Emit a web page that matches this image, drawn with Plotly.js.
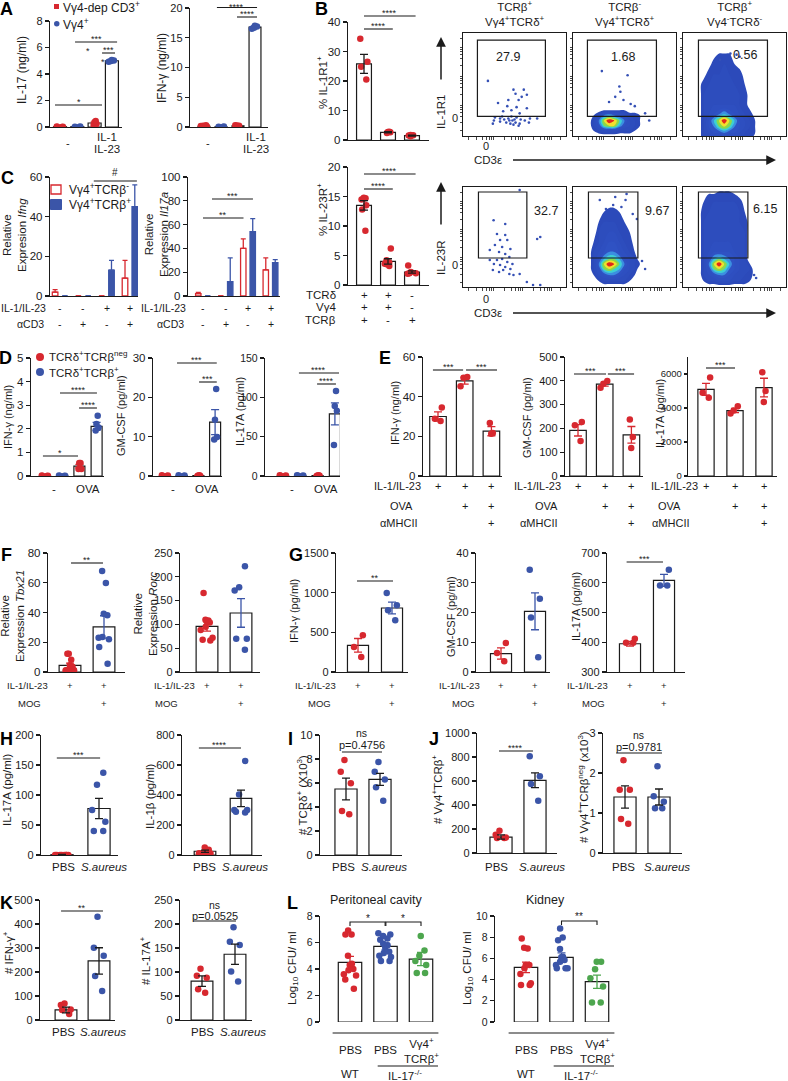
<!DOCTYPE html>
<html><head><meta charset="utf-8">
<script src="https://cdn.plot.ly/plotly-3.0.1.min.js"></script>
<style>html,body{margin:0;padding:0;background:#fff}</style>
</head><body><div id="chart" style="width:788px;height:1081px"></div>
<script>
// ================= DATA =================
// A
const A1_mean=[0.02,0.02,0.3,5.0], A1_sem=[0.01,0.01,0.07,0.04];
const A1_pts=[[0,0,0.02,0.04],[0,0.02,0.03],[0.12,0.22,0.35,0.45],[4.92,4.98,5.02,5.06]];
const A2_mean=[0.12,0.05,0.2,16.8], A2_sem=[0.08,0.02,0.05,0.15];
const A2_pts=[[0,0.05,0.1,0.2,0.3,0.15],[0,0.05,0.1],[0.1,0.2,0.25,0.3],[16.5,16.7,16.9,17.0]];
// B
const B1_mean=[25.8,2.6,1.5], B1_sem=[3.2,0.2,0.15];
const B1_pts=[[34.3,26.5,24.8,20.5],[2.4,2.6,2.7,2.8],[1.3,1.5,1.6,1.7]];
const B2_mean=[13.5,4.0,2.2], B2_sem=[0.8,0.45,0.2];
const B2_pts=[[14.8,14.7,14.6,14.5,13.5,12.8,9.2],[6.2,4.2,3.8,3.6,3.5,3.2],[3.3,2.2,2.0,2.0,1.9]];
const B_rowNames=['TCRδ','Vγ4','TCRβ'];
const B_rows=[['+','+','-'],['+','+','-'],['+','-','+']];
// B flow cytometry
const FLOW_cols=['TCRβ<sup>+</sup><br>Vγ4<sup>+</sup>TCRδ<sup>+</sup>','TCRβ<sup>-</sup><br>Vγ4<sup>+</sup>TCRδ<sup>+</sup>','TCRβ<sup>+</sup><br>Vγ4<sup>-</sup>TCRδ<sup>-</sup>'];
const FLOW_pct=['27.9','1.68','0.56','32.7','9.67','6.15'];
const FLOW_gates=[[1.4,8.0,1.9,9.3],[1.4,8.1,1.9,9.3],[1.5,8.2,1.9,9.3],[1.5,6.2,2.9,9.5],[1.5,6.3,2.9,9.5],[1.5,6.3,2.9,9.5]];
const FLOW_ticks=[0.5,1.3,1.9,2.3,2.6,2.8,3.0,4.0,4.7,5.1,5.4,5.6,5.8,6.8,7.5,7.9,8.2,8.4,8.6,9.5];
const FT1_x=[2.42,4.9,5.9,5.1,5.7,6.2,4.4,5.4,3.4,4.3,5.2,4.7,6.2,3.9,5.5,3.1,3.6,4.0,4.4,4.8,5.2,5.6,6.0,6.5,3.6,4.2,4.6,5.1,5.5,3.0,4.5,4.9,5.4,7.2,3.8,4.7,5.0,2.9,6.4];
const FT1_y=[5.35,4.5,4.5,4.1,3.8,4.0,3.5,3.5,3.2,2.9,2.8,2.5,2.7,2.4,2.2,1.8,1.7,1.6,1.7,1.5,1.8,1.6,1.5,1.7,1.4,1.3,1.2,1.3,1.2,1.5,1.5,1.1,1.0,1.7,1.9,1.9,1.6,1.2,1.3];
const FT2_x=[2.8,5.3,4.5,4.1,4.6,4.9,5.6,3.5,6.0,7.0,7.4];
const FT2_y=[6.3,5.9,4.8,3.8,4.3,3.5,3.1,3.3,2.9,2.2,1.5];
const FT3_x=[4.6,5.2,5.5,3.6];
const FT3_y=[8.0,7.9,7.7,7.4];
const FB1_x=[2.97,4.1,3.3,4.1,3.6,4.3,3.1,3.8,4.6,2.6,3.5,4.1,4.5,3.8,3.3,4.3,4.8,3.0,3.6,4.1,4.6,3.9,3.5,4.5,4.9,5.5,6.2,6.8,7.5,7.5,7.2,5.5,2.6,2.9];
const FB1_y=[6.67,6.3,5.3,5.2,4.7,4.7,4.2,4.0,3.8,3.7,3.5,3.3,3.0,2.8,2.7,2.5,2.3,2.3,2.2,2.0,1.8,1.7,1.5,1.3,1.2,1.3,0.5,0.2,0.2,5.0,4.8,9.7,2.7,1.7];
const FB2_x=[2.6,4.1,5.1,5.2,3.9,4.7,3.2,5.8,6.2,6.7,7.0];
const FB2_y=[8.7,9.0,8.7,9.3,8.2,8.0,7.8,7.3,6.8,2.6,1.8];
const FB3_x=[6.9,7.1];
const FB3_y=[1.2,0.9];
// density grids (relative event density)
const FT2_gx=[1.5,2,2.5,3,3.5,4,4.5,5,5.5,6,6.5,7,7.5];
const FT2_gy=[0,0.5,1,1.5,2,2.5,3,3.5];
const FT2_z=[
 [0,0,0,0,0,0,0,0,0,0,0,0,0],
 [0,1,2,3,3,3,2,2,2,1,1,0,0],
 [0,2,4,7,8,8,6,4,3,2,1,1,0],
 [0,2,5,8,10,9,7,5,3,2,1,1,0],
 [0,1,3,5,6,5,4,3,2,2,1,0,0],
 [0,0,0,1,1,1,1,1,0,0,0,0,0],
 [0,0,0,0,0,0,0,0,0,0,0,0,0],
 [0,0,0,0,0,0,0,0,0,0,0,0,0]];
const FT3_gx=[1.5,2,2.5,3,3.5,4,4.5,5,5.5,6,6.5,7,7.5];
const FT3_gy=[-0.5,0.3,0.9,1.5,2.1,3,4,5,6,7,8,8.8];
const FT3_z=[
 [0,2,3,3,3,3,3,3,2,2,1,0,0],
 [0,2,3,4,4,5,4,4,3,2,2,1,0],
 [0,2,4,5,7,8,7,5,4,3,2,1,0],
 [0,2,4,6,8,10,8,6,4,3,2,1,0],
 [0,2,3,4,5,6,5,4,3,2,2,0,0],
 [0,2,3,3,3,3,3,3,2,2,0,0,0],
 [0,2,3,3,3,3,3,3,2,2,0,0,0],
 [0,2,2,3,3,3,3,2,2,1,0,0,0],
 [0,0,2,2,2,3,2,2,2,0,0,0,0],
 [0,0,0,2,2,2,2,1,0,0,0,0,0],
 [0,0,0,0,1,1,1,0,0,0,0,0,0],
 [0,0,0,0,0,0,0,0,0,0,0,0,0]];
const FB2_gx=[1.5,2,2.5,3,3.5,4,4.5,5,5.5,6,6.5,7];
const FB2_gy=[0,0.6,1.2,1.8,2.3,2.8,3.5,4.5,5.5,6.5,7.5,8.3];
const FB2_z=[
 [0,0,0,0,0,0,0,0,0,0,0,0],
 [0,0,1,2,2,2,2,2,1,0,0,0],
 [0,1,3,4,5,5,4,3,2,1,0,0],
 [0,2,4,7,8,7,6,4,3,2,0,0],
 [0,2,5,8,10,9,7,5,3,2,1,0],
 [0,2,4,6,7,7,6,4,3,2,0,0],
 [0,2,3,4,5,5,4,3,2,1,0,0],
 [0,1,2,3,4,4,3,2,2,0,0,0],
 [0,0,2,3,3,3,2,2,1,0,0,0],
 [0,0,1,2,2,2,2,1,0,0,0,0],
 [0,0,0,1,2,2,1,0,0,0,0,0],
 [0,0,0,0,0,0,0,0,0,0,0,0]];
const FB3_gx=[1.5,2,2.5,3,3.5,4,4.5,5,5.5,6,6.5,7];
const FB3_gy=[0,0.6,1.2,1.8,2.3,2.8,3.5,4.5,5.5,6.5,7.5,8.5,9.3,9.8];
const FB3_z=[
 [0,0,0,0,0,0,0,0,0,0,0,0],
 [0,1,2,2,3,3,3,2,2,2,1,0],
 [0,2,3,4,5,5,4,3,3,2,2,0],
 [0,2,4,7,8,7,5,4,3,3,2,0],
 [0,2,5,8,10,8,6,4,3,3,1,0],
 [0,2,4,6,7,6,5,4,3,2,0,0],
 [0,2,3,4,4,4,4,3,3,2,0,0],
 [0,2,3,3,3,3,3,3,3,2,0,0],
 [0,2,3,3,3,3,3,3,3,2,0,0],
 [0,2,3,3,3,3,3,3,2,2,0,0],
 [0,2,2,3,3,3,3,3,2,1,0,0],
 [0,1,2,2,2,2,2,2,2,0,0,0],
 [0,0,1,1,2,2,2,1,0,0,0,0],
 [0,0,0,0,0,0,0,0,0,0,0,0]];
// C
const C1_neg=[2,0,0,9], C1_negErr=[1.2,0,0,9], C1_pos=[0,0,13,45], C1_posErr=[0,0,5,11];
const C2_neg=[2,0,40,22], C2_negErr=[1,0,8,10], C2_pos=[0,12,54,28], C2_posErr=[0,20,11,2.5];
const C_rowNames=['IL-1/IL-23','αCD3'];
const C_rows=[['-','-','+','+'],['-','+','-','+']];
// D
const D1_mean=[0.02,0.02,0.42,2.1], D1_sem=[0.01,0.01,0.07,0.17];
const D1_pts=[[0,0,0.01,0.02],[0,0,0.01,0.02],[0.55,0.55,0.3,0.3],[2.55,2.2,2.05,1.93]];
const D2_mean=[0.1,0.1,0.1,13.7], D2_sem=[0.05,0.05,0.05,3.2];
const D2_pts=[[0,0,0.1,0.2],[0,0,0.1,0.2],[0,0,0.1,0.2],[22.1,14.3,9.9,9.3]];
const D3_mean=[0.5,0.5,0.5,79], D3_sem=[0.2,0.2,0.2,14];
const D3_pts=[[0,0.3,0.6,1],[0,0.3,0.6,1],[0,0.3,0.6,1],[108,89,83,39.5]];
const D_x=['-','OVA'];
// E
const E1_mean=[30,48,22.6], E1_sem=[2.3,1.7,2.3];
const E1_pts=[[34.5,28.9,27.7],[49.9,49.6,45.2],[26.7,21.7,21.3]];
const E2_mean=[192,386,173], E2_sem=[24,8,35];
const E2_pts=[[227,213,147],[399,388,371],[237,164,118]];
const E3_mean=[5100,3850,5200], E3_sem=[350,120,550];
const E3_pts=[[5800,4900,4600],[4100,3860,3670],[6100,5000,4350]];
const E_rowNames=['IL-1/IL-23','OVA','αMHCII'];
const E_rows=[['+','+','+'],['','+','+'],['','','+']];
// F
const F1_mean=[4.5,30.3], F1_sem=[1.5,7.5];
const F1_pts=[[12.3,12.3,8.3,4.5,3.5,1.2,1.1,1.1,1.0,1.0],[67.9,59.8,39.2,38.1,23.5,23.1,22,16.8,5.6]];
const F2_mean=[96,124], F2_sem=[10,30];
const F2_pts=[[166,110,108,106,104,95,88,72,68,66],[222,178,171,70,70,47]];
const FG_rowNames=['IL-1/IL-23','MOG'];
const FG_rows=[['+','+'],['','+']];
// G
const G1_mean=[336,807], G1_sem=[86,74];
const G1_pts=[[462,315,189],[996,840,777,651]];
const G2_mean=[6.2,20.4], G2_sem=[1.9,6.2];
const G2_pts=[[9.75,6.4,3.6],[34.4,24.6,18.3,5.0]];
const G3_mean=[395,608], G3_sem=[8,20];
const G3_pts=[[412,398,398],[644,591,591]];
// H
const H1_mean=[0.5,77.5], H1_sem=[0.3,17];
const H1_pts=[[0,0,0,0,0,0,0,0],[137,117,75,55.6,40,40]];
const H2_mean=[25,378], H2_sem=[8,55];
const H2_pts=[[50,35,15,12,10,8,5],[627,404,300,300,289,284]];
// I
const I_mean=[5.5,6.3], I_sem=[0.9,0.5];
const I_pts=[[7.92,6.94,5.97,3.67,3.39],[7.75,6.94,6.3,5.64,4.53]];
// J
const J1_mean=[133,606], J1_sem=[18,62];
const J1_pts=[[186,153,130,125,125],[806,639,575,436]];
const J2_mean=[1.40,1.40], J2_sem=[0.28,0.2];
const J2_pts=[[2.32,1.58,1.58,0.85,0.73],[2.17,1.42,1.28,1.12,1.12]];
// K
const K1_mean=[42,246], K1_sem=[12,55];
const K1_pts=[[69,62,44,42,25],[430,301,268,183,121]];
const K2_mean=[81,137], K2_sem=[11,21];
const K2_pts=[[107,92,88,64,57],[193,163,156,101,80]];
const HK_x=['PBS','<i>S.aureus</i>'];
const P_I='p=0.4756', P_J='p=0.9781', P_K='p=0.0525';
// L
const L1_mean=[4.5,5.7,4.75], L1_sem=[0.45,0.25,0.5];
const L1_pts=[[6.9,6.6,6.6,5.0,4.4,4.3,4.0,3.9,3.6,3.5,3.2,2.5],[6.7,6.6,6.5,6.3,6.2,5.9,5.8,5.6,5.3,5.2,5.0,4.9,4.6,4.6],[6.5,5.4,5.0,4.6,4.3,3.7,3.7]];
const L2_mean=[5.15,6.1,3.8], L2_sem=[0.5,0.42,0.63];
const L2_pts=[[7.88,7.0,6.94,5.38,5.38,5.06,4.53,3.66,3.5,3.5],[8.81,7.97,7.72,6.88,6.16,6.1,5.84,5.69,5.38,5.06,5.06,5.06],[5.69,5.69,4.97,4.13,3.34,1.84,1.84]];
const L_x=['PBS','PBS','Vγ4<sup>+</sup><br>TCRβ<sup>+</sup>'];
const L_geno=['WT','IL-17<sup>-/-</sup>'];

// ================= DRAWING =================
const W=788,H=1081;
const RED='#d7282f',BLUE='#3b55a8',GREEN='#4da64e',INK='#1b1b1b';
const FONT='"Liberation Sans", Arial, Helvetica, sans-serif';
const px=v=>v/W, py=v=>1-v/H;
const traces=[],shapes=[],ann=[];
const layout={width:W,height:H,margin:{l:0,r:0,t:0,b:0,pad:0},showlegend:false,hovermode:false,dragmode:false,
  paper_bgcolor:'#ffffff',plot_bgcolor:'rgba(0,0,0,0)',font:{family:FONT,size:11,color:INK},
  barmode:'overlay',boxmode:'overlay',boxgap:0.3,shapes:shapes,annotations:ann};
let nAx=0;
function axes(b,c0,step,yr,dt,o){
  o=o||{}; nAx++; const s=nAx===1?'':String(nAx);
  layout['xaxis'+s]=Object.assign({domain:[px(b[0]),px(b[1])],range:[(b[0]-c0)/step,(b[1]-c0)/step],anchor:'y'+s,showline:true,linecolor:INK,linewidth:1.2,ticks:'',showticklabels:false,showgrid:false,zeroline:false,fixedrange:true},o.x||{});
  layout['yaxis'+s]=Object.assign({domain:[py(b[3]),py(b[2])],range:yr,dtick:dt,tick0:0,anchor:'x'+s,showline:true,linecolor:INK,linewidth:1.2,ticks:'outside',ticklen:o.tl||4,tickwidth:1.2,tickcolor:INK,tickfont:{size:o.fs||11},showgrid:false,zeroline:false,fixedrange:true},o.y||{});
  return {x:'x'+s,y:'y'+s,c0:c0,step:step};
}
function flowAx(b){
  nAx++; const s=String(nAx);
  const base={showline:true,mirror:true,linecolor:INK,linewidth:1,ticks:'outside',tickvals:FLOW_ticks,ticklen:2.5,tickwidth:0.8,tickcolor:INK,showticklabels:false,showgrid:false,zeroline:false,fixedrange:true,range:[0,10]};
  layout['xaxis'+s]=Object.assign({},base,{domain:[px(b[0]),px(b[1])],anchor:'y'+s});
  layout['yaxis'+s]=Object.assign({},base,{domain:[py(b[3]),py(b[2])],anchor:'x'+s});
  return {x:'x'+s,y:'y'+s};
}
function T(x,y,text,o){ann.push(Object.assign({xref:'paper',yref:'paper',x:px(x),y:py(y),text:text,showarrow:false,xanchor:'center',yanchor:'middle',font:{size:11}},o||{}));}
function TA(ax,xi,y,text,o){ann.push(Object.assign({xref:ax.x,yref:'paper',x:xi,y:py(y),text:text,showarrow:false,xanchor:'center',yanchor:'middle',font:{size:11}},o||{}));}
function VT(x,y,text,fs){T(x,y,text,{textangle:-90,font:{size:fs||11}});}
function sig(ax,x0,x1,y,lab,fs,labTop){
  shapes.push({type:'line',xref:ax.x,yref:'paper',x0:x0,x1:x1,y0:py(y),y1:py(y),line:{color:INK,width:1.1}});
  if(lab){
    if(labTop!==undefined) TA(ax,(x0+x1)/2,labTop,lab,{yanchor:'top',font:{size:fs||9}});
    else TA(ax,(x0+x1)/2,y-3,lab,{font:{size:fs||9}});
  }
}
function bracket(ax,x0,x1,y,lab){
  shapes.push({type:'path',xref:ax.x,yref:'paper',path:`M${x0},${py(y+4)} L${x0},${py(y)} L${x1},${py(y)} L${x1},${py(y+4)}`,line:{color:INK,width:1.1}});
  TA(ax,(x0+x1)/2,y-4,lab,{font:{size:10}});
}
function letter(x,y,t){T(x,y,'<b>'+t+'</b>',{font:{size:18,color:'#000'}});}
function barDots(ax,mean,sem,pts,cols,errCols,bw,jit){
  const xs=mean.map((_,i)=>i);
  traces.push({type:'bar',x:xs,y:mean,xaxis:ax.x,yaxis:ax.y,width:bw||0.62,marker:{color:'#ffffff',line:{color:INK,width:1.2}},hoverinfo:'skip'});
  const g={};
  pts.forEach((arr,i)=>{const c=cols[i]; if(!g[c]) g[c]={x:[],y:[]}; arr.forEach(v=>{g[c].x.push(i);g[c].y.push(v);});});
  Object.keys(g).forEach(c=>traces.push({type:'box',x:g[c].x,y:g[c].y,xaxis:ax.x,yaxis:ax.y,boxpoints:'all',jitter:jit||0.75,pointpos:0,fillcolor:'rgba(0,0,0,0)',line:{width:0,color:'rgba(0,0,0,0)'},marker:{color:c,size:6.5},hoverinfo:'skip'}));
  xs.forEach(i=>traces.push({type:'scatter',mode:'markers',x:[i],y:[mean[i]],xaxis:ax.x,yaxis:ax.y,marker:{size:1,color:'rgba(0,0,0,0)'},error_y:{type:'data',array:[sem[i]],visible:true,color:errCols[i],thickness:1.3,width:4},hoverinfo:'skip'}));
}
function pairBars(ax,neg,negE,pos,posE){
  const xs=neg.map((_,i)=>i), z=neg.map(()=>0);
  traces.push({type:'bar',x:xs,y:neg,xaxis:ax.x,yaxis:ax.y,offset:-0.33,width:0.24,marker:{color:'#ffffff',line:{color:RED,width:1.3}},error_y:{type:'data',symmetric:false,array:negE,arrayminus:z,color:RED,thickness:1.3,width:2.5},hoverinfo:'skip'});
  traces.push({type:'bar',x:xs,y:pos,xaxis:ax.x,yaxis:ax.y,offset:0.09,width:0.24,marker:{color:BLUE,line:{color:BLUE,width:1.3}},error_y:{type:'data',symmetric:false,array:posE,arrayminus:z,color:BLUE,thickness:1.3,width:2.5},hoverinfo:'skip'});
}
function rows(ax,names,vals,ys,rightX,fs){
  names.forEach((n,r)=>{
    T(rightX[r],ys[r],n,{xanchor:'right',font:{size:fs}});
    vals[r].forEach((v,i)=>{ if(v) TA(ax,i,ys[r],v,{font:{size:fs}}); });
  });
}
// category labels under an axis, placed at pixel x (shifted from the category centre)
function catLabels(ax,labels,dxPx,y,fs){
  labels.forEach((t,i)=>TA(ax,i+dxPx[i]/ax.step,y,t,{font:{size:fs||11.5}}));
}
const FLOW_CS=[[0,'rgba(44,73,185,0)'],[0.06,'rgba(44,73,185,0)'],[0.07,'#2c49b9'],[0.45,'#2f52c3'],[0.556,'#3b8fe0'],[0.667,'#3ccfd3'],[0.778,'#8ad84b'],[0.889,'#f3df2c'],[1,'#e0281b']];
function flowDensity(ax,gx,gy,z){
  traces.push({type:'contour',x:gx,y:gy,z:z,xaxis:ax.x,yaxis:ax.y,autocontour:false,contours:{start:1,end:9,size:1,coloring:'fill',showlines:false},line:{width:0},colorscale:FLOW_CS,showscale:false,hoverinfo:'skip'});
}
function flowPts(ax,xs,ys){
  traces.push({type:'scatter',mode:'markers',x:xs,y:ys,xaxis:ax.x,yaxis:ax.y,marker:{size:2.6,color:'#3550b5'},hoverinfo:'skip'});
}
function gate(ax,g){shapes.push({type:'rect',xref:ax.x,yref:ax.y,x0:g[0],x1:g[1],y0:g[2],y1:g[3],line:{color:INK,width:1.2}});}

// ---------- A ----------
letter(6,9,'A');
const A1=axes([50,122,21,127],60,17.3,[0,8],2,{fs:11});
barDots(A1,A1_mean,A1_sem,A1_pts,[RED,BLUE,RED,BLUE],[RED,BLUE,RED,BLUE],0.75,0.9);
VT(22,70,'IL-17 (ng/ml)',12);
sig(A1,0.87,3.3,42,'***'); sig(A1,2.43,3.18,53,'***'); sig(A1,-0.29,2.43,105,'*');
T(88,51,'*',{font:{size:9}}); T(103,62,'*',{font:{size:9}});
shapes.push({type:'rect',xref:'paper',yref:'paper',x0:px(54),x1:px(59),y0:py(9),y1:py(4),fillcolor:RED,line:{width:0}});
shapes.push({type:'circle',xref:'paper',yref:'paper',x0:px(54),x1:px(59.5),y0:py(26.5),y1:py(21),fillcolor:BLUE,line:{width:0}});
T(61,7,'Vγ4-dep CD3<sup>+</sup>',{xanchor:'left',font:{size:12}});
T(61,24,'Vγ4<sup>+</sup>',{xanchor:'left',font:{size:12}});
T(68,143,'-'); T(107,137,'IL-1',{font:{size:11.5}}); T(107,149,'IL-23',{font:{size:11.5}});
const A2=axes([190,268,8,127],204,17,[0,20],5,{fs:11});
barDots(A2,A2_mean,A2_sem,A2_pts,[RED,BLUE,RED,BLUE],[RED,BLUE,RED,BLUE],0.7,0.9);
VT(162,68,'IFN-γ (ng/ml)',12);
sig(A2,0.76,3.12,7.5,'****',9,0.5); sig(A2,1.94,3.12,17,'****');
T(208,143,'-'); T(256,137,'IL-1',{font:{size:11.5}}); T(256,149,'IL-23',{font:{size:11.5}});

// ---------- B ----------
letter(321,9,'B');
const B1=axes([348,429,22,140],364,24,[0,40],10,{fs:11.5});
barDots(B1,B1_mean,B1_sem,B1_pts,[RED,RED,RED],[INK,INK,INK],0.62);
VT(322,83,'% IL-1R1<sup>+</sup>',11.5);
sig(B1,0,2.15,16,'****'); sig(B1,0,1.2,29,'****');
const B2=axes([348,429,167,285],364,24,[0,20],5,{fs:11.5});
barDots(B2,B2_mean,B2_sem,B2_pts,[RED,RED,RED],[INK,INK,INK],0.62);
VT(322,210,'% IL-23R<sup>+</sup>',11.5);
sig(B2,0,2.15,174,'****'); sig(B2,0,1.2,189,'****');
rows(B2,B_rowNames,B_rows,[295,307,320],[338,338,338],11.5);

// flow plots
const fxs=[[463,566],[573,676],[683,786]];
const FA=[];
[[33,136],[187,287]].forEach((yy)=>fxs.forEach((xx)=>FA.push(flowAx([xx[0],xx[1],yy[0],yy[1]]))));
fxs.forEach((xx,c)=>T((xx[0]+xx[1])/2,13,FLOW_cols[c],{font:{size:11.5}}));
flowPts(FA[0],FT1_x,FT1_y);
flowDensity(FA[1],FT2_gx,FT2_gy,FT2_z); flowPts(FA[1],FT2_x,FT2_y);
flowDensity(FA[2],FT3_gx,FT3_gy,FT3_z); flowPts(FA[2],FT3_x,FT3_y);
flowPts(FA[3],FB1_x,FB1_y);
flowDensity(FA[4],FB2_gx,FB2_gy,FB2_z); flowPts(FA[4],FB2_x,FB2_y);
flowDensity(FA[5],FB3_gx,FB3_gy,FB3_z); flowPts(FA[5],FB3_x,FB3_y);
FA.forEach((a,i)=>gate(a,FLOW_gates[i]));
const pctPos=[[508,57],[623,57],[745,55],[546,211],[657,211],[765,209]];
FLOW_pct.forEach((t,i)=>T(pctPos[i][0],pctPos[i][1],t,{font:{size:12.5}}));
VT(441,112,'IL-1R1',11.5); VT(441,258,'IL-23R',11.5);
T(455,118,'0'); T(455,265,'0'); T(486,146,'0'); T(486,299,'0');
T(488,160,'CD3ε',{font:{size:11.5}}); T(488,313,'CD3ε',{font:{size:11.5}});
const arr={text:' ',showarrow:true,arrowhead:2,arrowsize:1.3,arrowwidth:1.5,arrowcolor:INK,axref:'pixel',ayref:'pixel',xref:'paper',yref:'paper'};
ann.push(Object.assign({},arr,{x:px(441),y:py(37),ax:0,ay:50}));
ann.push(Object.assign({},arr,{x:px(441),y:py(182),ax:0,ay:50}));
ann.push(Object.assign({},arr,{x:px(776),y:py(160),ax:-266,ay:0}));
ann.push(Object.assign({},arr,{x:px(776),y:py(313),ax:-266,ay:0}));

// ---------- C ----------
letter(8,178,'C');
const C1=axes([50,138,177,296],60,23.3,[0,60],20,{fs:11.5});
pairBars(C1,C1_neg,C1_negErr,C1_pos,C1_posErr);
VT(15,235,'Relative<br>Expresion <i>Ifng</i>',11.5);
TA(C1,2.37,172,'#',{font:{size:10}});
shapes.push({type:'line',xref:C1.x,yref:'paper',x0:1.45,x1:3.3,y0:py(181),y1:py(181),line:{color:INK,width:1.1}});
rows(C1,C_rowNames,C_rows,[308,324],[48,46],10.5);
shapes.push({type:'rect',xref:'paper',yref:'paper',x0:px(51),x1:px(61),y0:py(194),y1:py(185),fillcolor:'#fff',line:{color:RED,width:1.3}});
shapes.push({type:'rect',xref:'paper',yref:'paper',x0:px(50.5),x1:px(61.5),y0:py(209.5),y1:py(199.5),fillcolor:BLUE,line:{color:BLUE,width:1}});
T(67,189.5,'Vγ4<sup>+</sup>TCRβ<sup>-</sup>',{xanchor:'left',font:{size:12}});
T(67,204.5,'Vγ4<sup>+</sup>TCRβ<sup>+</sup>',{xanchor:'left',font:{size:12}});
const C2=axes([188,280,177,296],203,22.5,[0,100],20,{fs:11.5});
pairBars(C2,C2_neg,C2_negErr,C2_pos,C2_posErr);
VT(157,235,'Relative<br>Expression <i>Il17a</i>',11.5);
sig(C2,0.4,2.22,199,'***'); sig(C2,0,1.8,218,'**');
rows(C2,C_rowNames,C_rows,[308,324],[188,186],10.5);

// ---------- D ----------
letter(5,358,'D');
const rbrb=[RED,BLUE,RED,BLUE];
const D1=axes([31,104,358,476],45,17.2,[0,5],1,{fs:11.5});
barDots(D1,D1_mean,D1_sem,D1_pts,rbrb,rbrb,0.64,0.9);
VT(8,417,'IFN-γ (ng/ml)');
sig(D1,0.87,3.02,393,'****'); sig(D1,1.98,3.02,408,'****'); sig(D1,-0.12,1.92,456,'*');
shapes.push({type:'circle',xref:'paper',yref:'paper',x0:px(36),x1:px(44),y0:py(361),y1:py(353),fillcolor:RED,line:{width:0}});
shapes.push({type:'circle',xref:'paper',yref:'paper',x0:px(36),x1:px(44),y0:py(376),y1:py(368),fillcolor:BLUE,line:{width:0}});
T(47,356,'TCRδ<sup>+</sup>TCRβ<sup>neg</sup>',{xanchor:'left',font:{size:11.5}});
T(47,372,'TCRδ<sup>+</sup>TCRβ<sup>+</sup>',{xanchor:'left',font:{size:11.5}});
TA(D1,0.5,489,D_x[0],{font:{size:11.5}}); TA(D1,2.5,489,D_x[1],{font:{size:11.5}});
const D2=axes([153,222,358,476],165,16.7,[0,30],10,{fs:11.5});
barDots(D2,D2_mean,D2_sem,D2_pts,rbrb,rbrb,0.66,0.9);
VT(121,415,'GM-CSF (pg/ml)');
sig(D2,0.72,3.1,363,'***'); sig(D2,2.04,3.1,382,'***');
TA(D2,0.5,489,D_x[0],{font:{size:11.5}}); TA(D2,2.5,489,D_x[1],{font:{size:11.5}});
const D3=axes([265,340,358,476],283,17.3,[0,150],50,{fs:10.5});
barDots(D3,D3_mean,D3_sem,D3_pts,rbrb,rbrb,0.64,0.9);
VT(240,412,'IL-17A (pg/ml)');
sig(D3,0.92,3.24,373,'****'); sig(D3,1.97,3.06,384,'****');
TA(D3,0.5,489,D_x[0],{font:{size:11.5}}); TA(D3,2.5,489,D_x[1],{font:{size:11.5}});

// ---------- E ----------
letter(385,358,'E');
const rrr=[RED,RED,RED];
const E1=axes([423,502,357,476],438,26.7,[0,60],20,{fs:11.5});
barDots(E1,E1_mean,E1_sem,E1_pts,rrr,rrr,0.62);
VT(395,413,'IFN-γ (ng/ml)');
sig(E1,-0.19,0.94,370,'***'); sig(E1,1.05,2.21,370,'***');
rows(E1,E_rowNames,E_rows,[486,506,523],[423,415,420],11);
const E2=axes([565,643,357,476],578,26.7,[0,500],100,{fs:11});
barDots(E2,E2_mean,E2_sem,E2_pts,rrr,rrr,0.62);
VT(527,418,'GM-CSF (pg/ml)');
sig(E2,-0.15,1.05,374,'***'); sig(E2,1.12,2.1,374,'***');
rows(E2,E_rowNames,E_rows,[486,506,523],[563,560,560],11);
const E3=axes([688,777,357,476],706,29,[0,7000],2000,{fs:9.5,tl:3});
barDots(E3,E3_mean,E3_sem,E3_pts,rrr,rrr,0.56);
VT(660,414,'IL-17A (pg/ml)');
sig(E3,0,1.0,368,'***');
rows(E3,E_rowNames,E_rows,[486,506,523],[700,683,692],11);

// ---------- F ----------
letter(6,555,'F');
const rb=[RED,BLUE];
const F1=axes([48,125,553,672],70,34,[0,80],20,{fs:11.5});
barDots(F1,F1_mean,F1_sem,F1_pts,rb,rb,0.64,0.9);
VT(12,616,'Relative<br>Expression <i>Tbx21</i>',11.5);
sig(F1,0.03,0.97,563,'**');
rows(F1,FG_rowNames,FG_rows,[685,703],[50,43],9.5);
const F2=axes([180,260,553,672],207,34,[0,250],50,{fs:11});
barDots(F2,F2_mean,F2_sem,F2_pts,rb,rb,0.64,0.9);
VT(145,614,'Relative<br>Expression <i>Rorc</i>',11.5);
rows(F2,FG_rowNames,FG_rows,[685,703],[197,180],9.5);

// ---------- G ----------
letter(296,555,'G');
const G1=axes([336,408,553,672],358,34,[0,1500],500,{fs:11});
barDots(G1,G1_mean,G1_sem,G1_pts,rb,rb,0.62);
VT(294,611,'IFN-γ (pg/ml)');
sig(G1,-0.03,1.03,581,'**');
rows(G1,FG_rowNames,FG_rows,[685,703],[338,333],9.5);
const G2=axes([476,550,553,672],501,34,[0,40],10,{fs:11});
barDots(G2,G2_mean,G2_sem,G2_pts,rb,rb,0.62);
VT(451,617,'GM-CSF (pg/ml)');
rows(G2,FG_rowNames,FG_rows,[685,703],[482,477],9.5);
const G3=axes([607,685,553,672],630,34,[300,700],100,{fs:11});
barDots(G3,G3_mean,G3_sem,G3_pts,rb,rb,0.62);
VT(576,607,'IL-17A (pg/ml)');
sig(G3,-0.1,0.97,562,'***');
rows(G3,FG_rowNames,FG_rows,[685,703],[610,607],9.5);

// ---------- H, I, J ----------
const kk=[INK,INK];
letter(6,739,'H');
const H1=axes([41,118,735,855],62,37,[0,200],50,{fs:11});
barDots(H1,H1_mean,H1_sem,H1_pts,rb,kk,0.6,0.9);
VT(7,790,'IL-17A (pg/ml)',11.5);
sig(H1,-0.14,1.03,758,'***');
catLabels(H1,HK_x,[1,5],867);
const H2=axes([182,262,735,855],205,36,[0,800],200,{fs:11});
barDots(H2,H2_mean,H2_sem,H2_pts,rb,kk,0.6,0.9);
VT(150,796,'IL-1β (pg/ml)',11.5);
sig(H2,-0.17,1.0,748,'****');
catLabels(H2,HK_x,[-1,4],867);
letter(290,739,'I');
const I1=axes([320,402,735,855],346,34,[0,10],2,{fs:11});
barDots(I1,I_mean,I_sem,I_pts,rb,kk,0.65);
VT(302,795,'# TCRδ<sup>+</sup> (X10<sup>3</sup>)',11.5);
sig(I1,-0.12,1.06,752,'');
TA(I1,0.47,733,'ns',{font:{size:10.5}}); TA(I1,0.47,745,P_I,{font:{size:11}});
catLabels(I1,HK_x,[-3,4],867);
letter(434,739,'J');
const J1=axes([477,557,733,853],501,34,[0,1000],200,{fs:11});
barDots(J1,J1_mean,J1_sem,J1_pts,rb,kk,0.65);
VT(437,790,'# Vγ4<sup>+</sup>TCRβ<sup>+</sup>',11.5);
sig(J1,-0.06,0.94,751,'****');
catLabels(J1,HK_x,[-4,7],867);
const J2=axes([603,682,733,853],625,34,[0,3],1,{fs:11});
barDots(J2,J2_mean,J2_sem,J2_pts,rb,kk,0.65);
VT(583,787,'# Vγ4<sup>+</sup>TCRβ<sup>neg</sup> (x10<sup>3</sup>)',11.5);
sig(J2,-0.26,1.09,753,'');
TA(J2,0.41,735,'ns',{font:{size:10.5}}); TA(J2,0.41,747,P_J,{font:{size:11}});
catLabels(J2,HK_x,[-2,8],867);

// ---------- K ----------
letter(6,903,'K');
const K1=axes([40,115,900,1020],66,33,[0,500],100,{fs:11});
barDots(K1,K1_mean,K1_sem,K1_pts,rb,kk,0.66);
VT(8,953,'# IFN-γ<sup>+</sup>',11.5);
sig(K1,-0.15,1.12,911,'**');
catLabels(K1,HK_x,[-3,4],1032);
const K2=axes([180,252,900,1020],202,33,[0,250],50,{fs:11});
barDots(K2,K2_mean,K2_sem,K2_pts,rb,kk,0.66);
VT(145,961,'# IL-17A<sup>+</sup>',11.5);
sig(K2,-0.27,1.03,921,'');
TA(K2,0.38,905,'ns',{font:{size:10.5}}); TA(K2,0.38,916,P_K,{font:{size:11}});
catLabels(K2,HK_x,[0,8],1032);

// ---------- L ----------
letter(292,903,'L');
const rbg=[RED,BLUE,GREEN];
function lPanel(ax,mean,sem,pts,title,tx,ylx){
  barDots(ax,mean,sem,pts,rbg,rbg,0.66,0.9);
  VT(ylx,968,'Log<sub>10</sub> CFU/ ml',11.5);
  T(tx,900,title,{font:{size:12.5}});
  shapes.push({type:'line',xref:ax.x,yref:'paper',x0:-0.49,x1:2.49,y0:py(1033),y1:py(1033),line:{color:INK,width:1.1}});
  L_x.forEach((t,i)=>TA(ax,i,1050,t,{font:{size:11.5}}));
  TA(ax,0,1074,L_geno[0],{font:{size:11.5}});
  shapes.push({type:'line',xref:ax.x,yref:'paper',x0:0.78,x1:2.48,y0:py(1066),y1:py(1066),line:{color:INK,width:1.1}});
  TA(ax,1.55,1075,L_geno[1],{font:{size:11.5}});
}
const L1=axes([320,440,916,1022],350,35.5,[0,8],2,{x:{showline:false},fs:10.5});
lPanel(L1,L1_mean,L1_sem,L1_pts,'Peritoneal cavity',376,293);
bracket(L1,0,0.99,922,'*'); bracket(L1,1.01,2.0,922,'*');
const L2=axes([495,620,916,1022],526,35.5,[0,10],2,{x:{showline:false},fs:10.5});
lPanel(L2,L2_mean,L2_sem,L2_pts,'Kidney',545,468);
bracket(L2,1,2,921,'**');

Plotly.newPlot('chart',traces,layout,{staticPlot:true,displayModeBar:false});
</script></body></html>
